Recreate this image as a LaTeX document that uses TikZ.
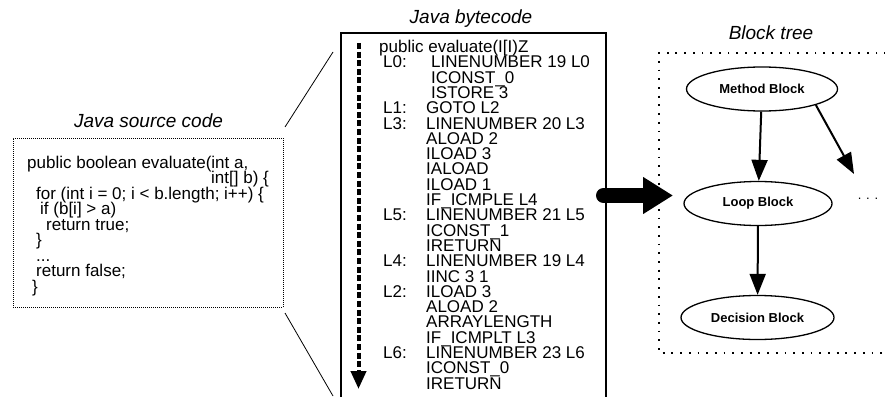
\documentclass[tikz,border=0pt]{standalone}
\usepackage{fontspec}
\setmainfont{Liberation Sans}
\usetikzlibrary{arrows.meta,positioning,shapes.geometric}

\begin{document}
\begin{tikzpicture}[x=1pt,y=-1pt,
  title/.style={font=\fontsize{19}{19}\selectfont\itshape,anchor=base,inner sep=0pt},
  code/.style={font={\fontsize{17}{15.3}\selectfont\lineskiplimit=-20pt},align=left,anchor=north west,inner sep=0pt},
  blk/.style={ellipse,draw,line width=1.3pt,minimum width=151pt,minimum height=44pt,inner sep=0pt,font=\fontsize{13}{13}\selectfont\bfseries},
  link/.style={-{Triangle[width=16pt,length=21pt]},line width=2pt}]
\useasboundingbox (0,0) rectangle (885,396);

% source code panel
\node[title] (srctitle) at (148.5,127.5) {Java source code};
\node[draw,line width=1pt,dash pattern=on 1pt off 1pt,minimum width=270pt,minimum height=169pt,inner sep=0pt] (src) at (148,222.5) {};
\node[code,font={\fontsize{17}{15.5}\selectfont\lineskiplimit=-20pt}] (srctext) at (27,155.5) {public boolean evaluate(int a,\\
\hspace*{184pt}int[] b) \{\\
\hspace*{9pt}for (int i = 0; i < b.length; i++) \{\\
\hspace*{13pt}if (b[i] > a)\\
\hspace*{19pt}return true;\\
\hspace*{9pt}\}\\
\hspace*{9pt}...\\
\hspace*{9pt}return false;\\
\hspace*{5pt}\}};

% zoom lines
\coordinate (zt0) at (285,127);
\coordinate (zt1) at (333,52);
\coordinate (zb0) at (285,313);
\coordinate (zb1) at (333,396);
\draw[line width=0.8pt] (zt0) -- (zt1);
\draw[line width=0.8pt] (zb0) -- (zb1);

% bytecode panel, open at the bottom
\node[title] (bctitle) at (471,23.5) {Java bytecode};
\draw[line width=1.5pt] (341,397) -- (341,33) -- (606,33) -- (606,397);
\node[code] (bctext) at (379,40) {public evaluate(I[I)Z\\
\hspace*{4pt}\makebox[48pt][l]{L0:}LINENUMBER 19 L0\\
\hspace*{52pt}ICONST\_0\\
\hspace*{52pt}ISTORE 3\\
\hspace*{4pt}\makebox[43pt][l]{L1:}GOTO L2\\
\hspace*{4pt}\makebox[43pt][l]{L3:}LINENUMBER 20 L3\\
\hspace*{47pt}ALOAD 2\\
\hspace*{47pt}ILOAD 3\\
\hspace*{47pt}IALOAD\\
\hspace*{47pt}ILOAD 1\\
\hspace*{47pt}IF\_ICMPLE L4\\
\hspace*{4pt}\makebox[43pt][l]{L5:}LINENUMBER 21 L5\\
\hspace*{47pt}ICONST\_1\\
\hspace*{47pt}IRETURN\\
\hspace*{4pt}\makebox[43pt][l]{L4:}LINENUMBER 19 L4\\
\hspace*{47pt}IINC 3 1\\
\hspace*{4pt}\makebox[43pt][l]{L2:}ILOAD 3\\
\hspace*{47pt}ALOAD 2\\
\hspace*{47pt}ARRAYLENGTH\\
\hspace*{47pt}IF\_ICMPLT L3\\
\hspace*{4pt}\makebox[43pt][l]{L6:}LINENUMBER 23 L6\\
\hspace*{47pt}ICONST\_0\\
\hspace*{47pt}IRETURN};

% execution order
\coordinate (flow0) at (358.5,43);
\coordinate (flow1) at (358.5,389);
\draw[-{Triangle[width=15pt,length=18pt]},line width=4pt,dash pattern=on 6pt off 2.6pt] (flow0) -- (flow1);

% block tree panel, open at the right
\node[title] (treetitle) at (771,40) {Block tree};
\draw[line width=1.8pt,dash pattern=on 1.8pt off 6.9pt] (886,53) -- (659,53) -- (659,353) -- (886,353);
\node[blk] (meth) at (762,89) {Method Block};
\node[blk,minimum width=148pt] (loop) at (758,203.5) {Loop Block};
\node[blk,minimum width=153pt] (dec) at (757.5,317.5) {Decision Block};
\node[font=\fontsize{13}{13}\selectfont,anchor=base,inner sep=0pt] (more) at (868,199) {. . .};
\coordinate (moretip) at (854,174);

\draw[link] (meth) -- (loop);
\draw[link] (loop) -- (dec);
\draw[link] (meth.south east) -- (moretip);

% bytecode to tree
\coordinate (big0) at (603.5,195.5);
\coordinate (big1) at (673,195.5);
\draw[-{Triangle[width=35pt,length=30pt]},line width=15pt,line cap=round] (big0) -- (big1);
\end{tikzpicture}
\end{document}
